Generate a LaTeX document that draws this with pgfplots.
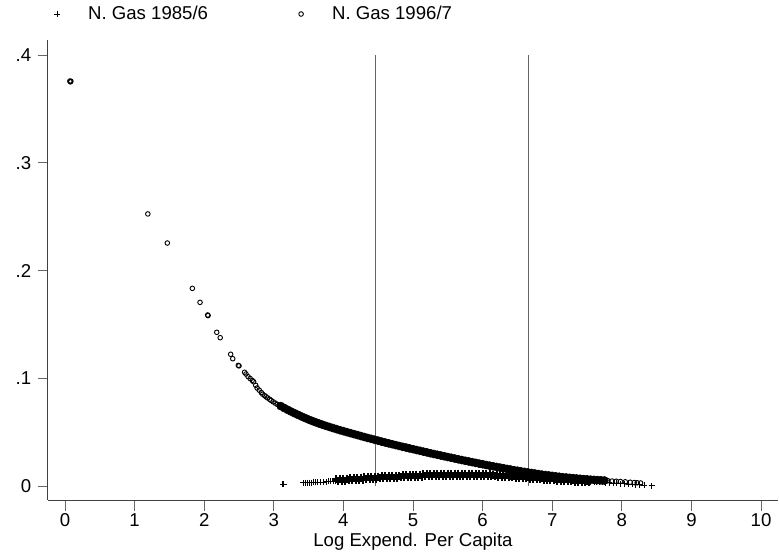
\documentclass[border=0pt]{standalone}
\usepackage{pgfplots}
\pgfplotsset{compat=1.18}
\usepackage{fontspec}
\setmainfont{Liberation Sans}

\begin{document}
\fontsize{18.6}{22}\selectfont
\begin{tikzpicture}
\path[use as bounding box] (-48pt,-55pt) rectangle (731pt,500pt);
\begin{axis}[
  at={(0pt,0pt)}, anchor=south west,
  scale only axis, width=730pt, height=460pt,
  xmin=-0.2443, xmax=10.244, ymin=-0.0130, ymax=0.4141,
  axis x line*=bottom, axis y line*=left,
  axis line style={black!75, line width=1pt},
  tick style={black!60, line width=1pt},
  tick align=outside, major tick length=10.5pt,
  xtick={0,1,2,3,4,5,6,7,8,9,10},
  xticklabels={0,1,2,3,4,5,6,7,8,9,10},
  xticklabel style={inner sep=0pt, yshift=-3.2pt},
  ytick={0,0.1,0.2,0.3,0.4},
  yticklabels={0,.1,.2,.3,.4},
  xlabel={Log Expend. Per Capita},
  xlabel style={inner sep=0pt, yshift=-6pt},
  legend columns=2,
  legend style={draw=none, fill=none, at={(axis description cs:-0.0069,1.0565)}, anchor=west,
    /tikz/every even column/.append style={column sep=80pt}},
  mylegimg/.style={legend image code/.code={\path[draw=none,fill=none] (0pt,-3pt) (40pt,3pt); \draw[mark repeat=2,mark phase=2,##1] plot coordinates {(0pt,0pt) (11pt,0pt) (40pt,0pt)};}},
]
% reference lines
\addplot[black!60, line width=1pt, forget plot] coordinates {(4.468,0) (4.468,0.4)};
\addplot[black!60, line width=1pt, forget plot] coordinates {(6.657,0) (6.657,0.4)};

% N. Gas 1985/6 (sparse part)
\addplot[only marks, mark=+, mark size=3pt, line width=0.9pt, black, mylegimg] table {
x y
3.13 .0016
3.14 .0018
3.42 .0030
3.45 .0030
3.48 .0031
3.51 .0032
3.54 .0032
3.57 .0033
3.60 .0034
3.63 .0034
3.67 .0035
3.72 .0037
3.76 .0040
3.79 .0042
3.82 .0044
3.85 .0046
3.88 .0048
7.55 .0040
7.60 .0038
7.64 .0036
7.68 .0035
7.72 .0033
7.77 .0031
7.82 .0029
7.88 .0027
7.93 .0025
7.98 .0023
8.04 .0021
8.10 .0018
8.15 .0016
8.20 .0013
8.26 .0010
8.32 .0007
8.43 .0001
};
\addlegendentry{N. Gas 1985/6}

% N. Gas 1985/6 (dense part)
\addplot[only marks, mark=+, mark size=4pt, line width=2pt, black, forget plot] table {
x y
3.900 .0062
3.925 .0044
3.950 .00645
3.975 .00465
4.000 .0067
4.025 .0049
4.050 .00695
4.075 .00515
4.100 .0072
4.125 .0054
4.150 .0074
4.175 .0056
4.200 .0076
4.225 .0058
4.250 .0078
4.275 .0060
4.300 .0080
4.325 .0062
4.350 .0082
4.375 .0064
4.400 .0084
4.425 .0066
4.450 .0086
4.475 .0068
4.500 .0088
4.525 .0070
4.550 .00895
4.575 .00715
4.600 .0091
4.625 .0073
4.650 .00925
4.675 .00745
4.700 .0094
4.725 .0076
4.750 .00955
4.775 .00775
4.800 .0097
4.825 .0079
4.850 .00985
4.875 .00805
4.900 .0100
4.925 .0082
4.950 .01015
4.975 .00835
5.000 .0103
5.025 .0085
5.050 .01045
5.075 .00865
5.100 .0106
5.125 .0088
5.150 .0107
5.175 .0089
5.200 .0108
5.225 .0090
5.250 .0109
5.275 .0091
5.300 .0110
5.325 .0092
5.350 .0111
5.375 .0093
5.400 .0112
5.425 .0094
5.450 .01125
5.475 .00945
5.500 .0113
5.525 .0095
5.550 .01135
5.575 .00955
5.600 .0114
5.625 .0096
5.650 .0114
5.675 .0096
5.700 .0114
5.725 .0096
5.750 .0114
5.775 .0096
5.800 .0114
5.825 .0096
5.850 .01135
5.875 .00955
5.900 .0113
5.925 .0095
5.950 .0112
5.975 .0094
6.000 .0111
6.025 .0093
6.050 .01095
6.075 .00915
6.100 .0108
6.125 .0090
6.150 .01065
6.175 .00885
6.200 .0105
6.225 .0087
6.250 .0103
6.275 .0085
6.300 .0101
6.325 .0083
6.350 .0099
6.375 .0081
6.400 .0097
6.425 .0079
6.450 .0095
6.475 .0077
6.500 .0093
6.525 .0075
6.550 .0091
6.575 .0073
6.600 .0089
6.625 .0071
6.650 .00865
6.675 .00685
6.700 .0084
6.725 .0066
6.750 .0082
6.775 .0064
6.800 .0080
6.825 .0062
6.850 .00775
6.875 .00595
6.900 .0075
6.925 .0057
6.950 .0073
6.975 .0055
7.000 .0071
7.025 .0053
7.050 .0069
7.075 .0051
7.100 .0067
7.125 .0049
7.150 .0065
7.175 .0047
7.200 .0063
7.225 .0045
7.250 .0061
7.275 .0043
7.300 .0059
7.325 .0041
7.350 .0057
7.375 .0039
7.400 .0055
7.425 .0037
7.450 .0053
7.475 .0035
7.500 .0051
7.525 .0033
};

% N. Gas 1996/7 (sparse part)
\addplot[only marks, mark=o, mark size=2.3pt, line width=0.9pt, black, mylegimg] table {
x y
0.070 0.3760
0.078 0.3752
0.085 0.3758
1.19 0.2526
1.47 0.2256
1.83 0.1835
1.94 0.1705
2.05 0.1588
2.055 0.1582
2.18 0.1427
2.23 0.1377
2.38 0.1223
2.41 0.1182
2.49 0.1120
2.50 0.1115
2.58 0.1056
2.60 0.1040
2.63 0.1015
2.66 0.0998
2.69 0.0980
2.71 0.0968
2.74 0.0935
2.76 0.0910
2.79 0.0890
2.82 0.0868
2.84 0.0852
2.87 0.0838
2.89 0.0828
2.91 0.0818
2.94 0.0805
2.96 0.0795
2.99 0.0782
3.02 0.0770
3.05 0.0758
3.08 0.0748
7.80 0.0049
7.86 0.0046
7.92 0.0044
7.98 0.0042
8.05 0.0039
8.12 0.0035
8.18 0.0032
8.22 0.0030
8.27 0.0028
};
\addlegendentry{N. Gas 1996/7}

% N. Gas 1996/7 (dense part)
\addplot[only marks, mark=*, mark size=4pt, line width=0.6pt, black, mark options={fill=black}, forget plot] table {
x y
3.10 .0742
3.15 .0724
3.20 .0707
3.25 .0691
3.30 .0675
3.35 .0660
3.40 .0645
3.45 .0631
3.50 .0617
3.55 .0604
3.60 .0592
3.65 .0580
3.70 .0569
3.75 .0558
3.80 .0548
3.85 .0538
3.90 .0528
3.95 .0518
4.00 .0509
4.05 .0500
4.10 .0491
4.15 .0482
4.20 .0473
4.25 .0464
4.30 .0455
4.35 .0446
4.40 .0438
4.45 .0429
4.50 .0421
4.55 .0412
4.60 .0404
4.65 .0396
4.70 .0388
4.75 .0380
4.80 .0372
4.85 .0364
4.90 .0357
4.95 .0349
5.00 .0342
5.05 .0334
5.10 .0327
5.15 .0319
5.20 .0312
5.25 .0304
5.30 .0297
5.35 .0290
5.40 .0283
5.45 .0276
5.50 .0269
5.55 .0262
5.60 .0255
5.65 .0248
5.70 .0241
5.75 .0234
5.80 .0228
5.85 .0221
5.90 .0215
5.95 .0208
6.00 .0202
6.05 .0195
6.10 .0189
6.15 .0183
6.20 .0177
6.25 .0171
6.30 .0165
6.35 .0159
6.40 .0153
6.45 .0147
6.50 .0142
6.55 .0136
6.60 .0131
6.65 .0126
6.70 .0121
6.75 .0116
6.80 .0111
6.85 .0106
6.90 .0102
6.95 .0098
7.00 .0094
7.05 .0090
7.10 .0086
7.15 .0082
7.20 .0079
7.25 .0076
7.30 .0073
7.35 .0070
7.40 .0067
7.45 .0064
7.50 .0062
7.55 .0059
7.60 .0057
7.65 .0055
7.70 .0053
7.75 .0051
};
\end{axis}
\end{tikzpicture}
\end{document}
